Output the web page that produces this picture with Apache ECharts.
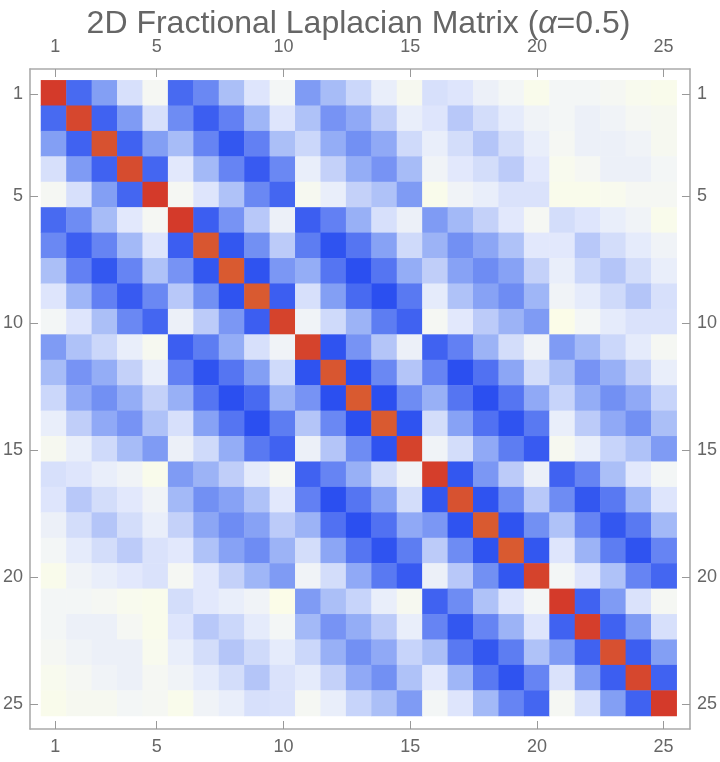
<!DOCTYPE html>
<html>
<head>
<meta charset="utf-8">
<style>html,body{margin:0;padding:0;background:#fff}#chart{width:720px;height:762px}</style>
<script src="https://cdn.jsdelivr.net/npm/echarts@6/dist/echarts.min.js"></script>
</head>
<body>
<div id="chart"></div>
<script>
var categories = [1,2,3,4,5,6,7,8,9,10,11,12,13,14,15,16,17,18,19,20,21,22,23,24,25];
var tickLabels = [1,5,10,15,20,25];
var r01 = [100,7,21,42,51,7,15,31,44,50,20,30,39,47,52,42,44,48,50,54,50,50,51,53,54];
var r02 = [7,97,5,20,42,16,4,13,28,44,32,18,24,36,47,44,34,41,46,49,50,48,49,51,52];
var r03 = [21,5,94,5,21,30,14,2,13,31,39,25,17,24,40,47,41,33,41,47,51,48,48,49,52];
var r04 = [42,20,5,96,6,45,29,14,3,15,47,37,25,18,30,49,45,41,35,45,53,51,48,48,50];
var r05 = [51,42,21,6,100,51,44,32,15,6,52,47,37,32,20,54,49,47,43,43,54,54,53,51,51];
var r06 = [7,16,30,45,51,100,4,18,34,48,4,13,26,42,48,20,29,37,45,51,41,44,47,49,54];
var r07 = [15,4,14,29,44,4,92,2,17,35,12,1,10,22,40,27,17,23,32,45,45,34,41,46,49];
var r08 = [31,13,2,14,32,18,2,90,1,19,25,10,0,10,25,36,22,16,22,37,47,39,33,41,47];
var r09 = [44,28,13,3,15,34,17,1,90,4,42,21,7,0,11,46,32,22,16,28,49,46,40,33,42];
var r10 = [50,44,31,15,6,48,35,19,4,98,49,40,27,12,5,51,45,35,27,20,55,50,46,43,43];
var r11 = [20,32,39,47,52,4,12,25,42,49,98,1,18,33,48,5,13,27,41,49,20,29,39,46,51];
var r12 = [30,18,25,37,47,13,1,10,21,40,1,92,0,15,33,14,0,9,23,41,31,18,26,37,47];
var r13 = [39,24,17,25,37,26,10,0,7,27,18,0,90,0,16,26,10,0,10,24,38,25,17,24,38];
var r14 = [47,36,24,18,32,42,22,10,0,12,33,15,0,90,1,41,22,9,1,11,47,35,24,17,31];
var r15 = [52,47,40,30,20,48,40,25,11,5,48,33,16,1,98,49,41,24,12,3,52,47,38,32,20];
var r16 = [42,44,47,49,54,20,27,36,46,51,5,14,26,41,49,99,2,19,35,48,5,14,31,45,50];
var r17 = [44,34,41,45,49,29,17,22,32,45,13,0,10,22,41,2,94,1,16,34,16,2,11,28,44];
var r18 = [48,41,33,41,47,37,23,16,22,35,27,9,0,9,24,19,1,90,1,17,32,14,2,11,29];
var r19 = [50,46,41,35,43,45,32,22,16,27,41,23,10,1,12,35,16,1,90,2,44,27,12,1,14];
var r20 = [54,49,47,45,43,51,45,37,28,20,49,41,24,11,3,48,34,17,2,98,50,44,32,14,6];
var r21 = [50,50,51,53,54,41,45,47,49,55,20,31,38,47,52,5,16,32,44,50,100,5,20,43,51];
var r22 = [50,48,48,51,54,44,34,39,46,50,29,18,25,35,47,14,2,14,27,44,5,99,5,20,42];
var r23 = [51,49,48,48,53,47,41,33,40,46,39,26,17,24,38,31,11,2,12,32,20,5,95,4,21];
var r24 = [53,51,49,48,51,49,46,41,33,43,46,37,24,17,32,45,28,11,1,14,43,20,4,97,5];
var r25 = [54,52,52,50,51,54,49,47,42,43,51,47,38,31,20,50,44,29,14,6,51,42,21,5,100];
var rows = [r01,r02,r03,r04,r05,r06,r07,r08,r09,r10,r11,r12,r13,r14,r15,r16,r17,r18,r19,r20,r21,r22,r23,r24,r25];
var colorRamp = ['#2B4FF0','#4062F1','#5575F2','#6A88F3','#7F9BF4','#94ADF6','#A7BCF7','#BCCBF9','#CFDAFA','#E2E8FC','#F3F6F6','#FBFCE8','#F8E8C0','#F4D0A0','#F0B880','#ECA060','#E88850','#DF7040','#D95A30','#D75030','#D43A2A'];

var heatData = [];
rows.forEach(function (row, y) {
  row.forEach(function (v, x) { heatData.push([x, y, v]); });
});

var LABEL = '#666666', FRAME = '#ABABAB', TICK = '#999999', FONT = '"Liberation Sans", Arial, sans-serif';
function frameAxis(position, margin) {
  return {
    type: 'value', gridIndex: 0, position: position, min: 0, max: (position === 'top' || position === 'bottom') ? 26.04 : 25.97,
    inverse: (position === 'left' || position === 'right'),
    splitLine: { show: false },
    axisLine: { show: true, onZero: false, lineStyle: { color: FRAME, width: 1.6 } },
    axisTick: { show: true, inside: true, length: 8, customValues: tickLabels, lineStyle: { color: TICK, width: 1 } },
    axisLabel: { show: true, inside: false, margin: margin, customValues: tickLabels, color: LABEL, fontSize: 18, fontFamily: FONT, showMinLabel: true, showMaxLabel: true }
  };
}

var chart = echarts.init(document.getElementById('chart'), null, { renderer: 'canvas' });
chart.setOption({
  animation: false,
  backgroundColor: '#ffffff',
  title: {
    text: '2D Fractional Laplacian Matrix ({a|α}=0.5)',
    left: 353.5, top: 3, textAlign: 'center',
    textStyle: {
      color: LABEL, fontSize: 32, fontWeight: 'normal', fontFamily: FONT,
      rich: { a: { color: LABEL, fontSize: 32, fontStyle: 'italic', fontFamily: FONT } }
    }
  },
  grid: [
    { left: 29, top: 69, width: 662, height: 660, containLabel: false },
    { left: 41, top: 80.3, width: 635.7, height: 635.7, containLabel: false }
  ],
  xAxis: [
    frameAxis('top', 13),
    frameAxis('bottom', 9),
    { type: 'category', gridIndex: 1, data: categories, show: false }
  ],
  yAxis: [
    frameAxis('left', 7),
    frameAxis('right', 7),
    { type: 'category', gridIndex: 1, data: categories, inverse: true, show: false }
  ],
  visualMap: { show: false, type: 'continuous', min: 0, max: 100, dimension: 2, seriesIndex: 0, inRange: { color: colorRamp } },
  series: [
    {
      type: 'heatmap', xAxisIndex: 2, yAxisIndex: 2, data: heatData, silent: true, progressive: 0,
      itemStyle: { borderWidth: 0 }, emphasis: { disabled: true }
    },
    { type: 'line', xAxisIndex: 0, yAxisIndex: 0, data: [], silent: true },
    { type: 'line', xAxisIndex: 1, yAxisIndex: 1, data: [], silent: true }
  ]
});
</script>
</body>
</html>
